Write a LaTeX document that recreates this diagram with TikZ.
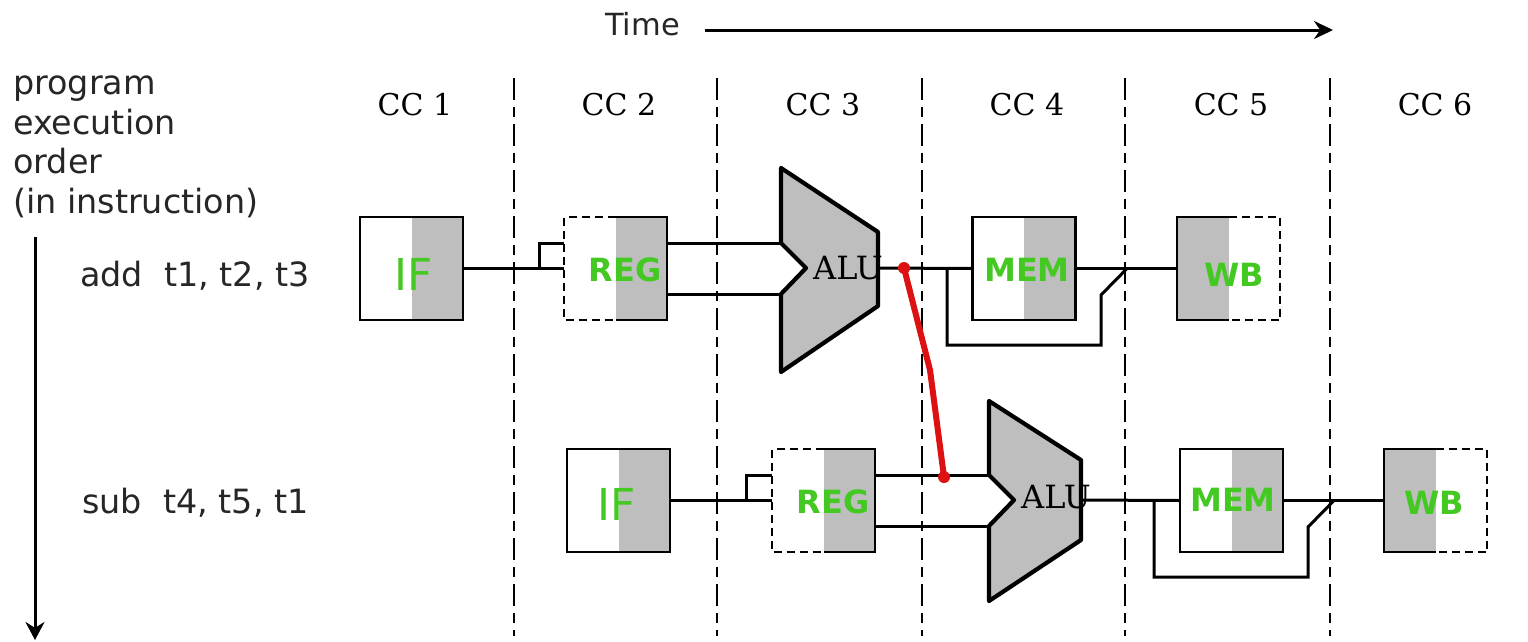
\documentclass[tikz,border=0pt]{standalone}
\usepackage{fontspec}
\setmainfont{DejaVu Sans}
\newfontfamily\ccfont{DejaVu Serif}
\usetikzlibrary{arrows.meta}
\definecolor{stagegray}{HTML}{BEBEBE}
\definecolor{stagegreen}{HTML}{44C922}
\definecolor{fwdred}{HTML}{DD1111}
\tikzset{
  stagebox/.style={minimum width=103pt,minimum height=103pt,inner sep=0pt,outer sep=0pt},
  grayright/.style={stagebox,path picture={\fill[stagegray] (path picture bounding box.north) rectangle (path picture bounding box.south east);}},
  grayleft/.style={stagebox,path picture={\fill[stagegray] (path picture bounding box.north west) rectangle (path picture bounding box.south);}},
  outline/.style={line width=2.8pt,black,line join=miter},
  halfdash/.style={line width=2.8pt,black,dash pattern=on 8pt off 5pt},
  wire/.style={line width=3pt,black,line join=miter},
  cycleline/.style={line width=2.5pt,black,dash pattern=on 22pt off 7pt on 10pt off 7pt},
  alubody/.style={draw=black,fill=stagegray,line width=4.2pt,line join=round},
  stagetxt/.style={text=stagegreen,inner sep=0pt,font=\fontsize{32}{38}\selectfont\bfseries},
  iftxt/.style={text=stagegreen,inner sep=0pt,font=\fontsize{44}{50}\selectfont},
  alutxt/.style={inner sep=0pt,font=\ccfont\fontsize{32}{38}\selectfont},
  cctxt/.style={inner sep=0pt,font=\ccfont\fontsize{30}{36}\selectfont},
  plain/.style={inner sep=0pt,anchor=base west,font=\fontsize{33.4}{40}\selectfont,text=black!85},
  instr/.style={inner sep=0pt,anchor=base west,font=\fontsize{33.4}{40}\selectfont,text=black!85},
}
\begin{document}
\begin{tikzpicture}[x=1pt,y=-1pt]
\useasboundingbox (0,0) rectangle (1528,641);
% cycle separators
\foreach \n/\x in {a/514,b/717,c/922,d/1125,e/1330}{
  \coordinate (top\n) at (\x,78);
  \coordinate (bot\n) at (\x,636);
  \draw[cycleline] (top\n) -- (bot\n);
}
% headers
\node[plain,font=\fontsize{30.5}{36}\selectfont] (time) at (605,35) {Time};
\coordinate (timeS) at (705,30);
\coordinate (timeE) at (1333,30);
\draw[line width=3pt,-{Stealth[length=19pt,width=18pt]}] (timeS) -- (timeE);
\node[plain] (l1) at (13,94) {program};
\node[plain] (l2) at (13,134) {execution};
\node[plain] (l3) at (13,173) {order};
\node[plain] (l4) at (13,213) {(in instruction)};
\coordinate (ordS) at (35,237);
\coordinate (ordE) at (35,640);
\draw[line width=3pt,-{Stealth[length=18pt,width=19pt]}] (ordS) -- (ordE);
\node[instr] (i1) at (80,286) {add\ \ t1, t2, t3};
\node[instr] (i2) at (82,513) {sub\ \ t4, t5, t1};
\foreach \n/\x in {1/415,2/619,3/823,4/1027,5/1231,6/1435}
  \node[cctxt] (cc\n) at (\x,105) {CC \n};

% first row boxes
\node[grayright] (if1) at (411.5,268.5) {};
\node[grayright] (reg1) at (615.5,268.5) {};
\node[grayright] (mem1) at (1024,268.5) {};
\node[grayleft] (wb1) at (1228.5,268.5) {};
\draw[outline] (if1.north west) rectangle (if1.south east);
\draw[outline] (mem1.north west) rectangle (mem1.south east);
\draw[outline] (reg1.north) -- (reg1.north east) -- (reg1.south east) -- (reg1.south);
\draw[halfdash] (reg1.north) -- (reg1.north west) -- (reg1.south west) -- (reg1.south);
\draw[outline] (wb1.north) -- (wb1.north west) -- (wb1.south west) -- (wb1.south);
\draw[halfdash] (wb1.north) -- (wb1.north east) -- (wb1.south east) -- (wb1.south);
\node[iftxt] (tif1) at (414,274) {IF};
\node[stagetxt] (treg1) at (625,270) {REG};
\node[stagetxt] (tmem1) at (1027,270) {MEM};
\node[stagetxt] (twb1) at (1234,275) {WB};

% second row boxes
\node[grayright] (if2) at (618.5,500.5) {};
\node[grayright] (reg2) at (823.5,500.5) {};
\node[grayright] (mem2) at (1231.5,500.5) {};
\node[grayleft] (wb2) at (1435.5,500.5) {};
\draw[outline] (if2.north west) rectangle (if2.south east);
\draw[outline] (mem2.north west) rectangle (mem2.south east);
\draw[outline] (reg2.north) -- (reg2.north east) -- (reg2.south east) -- (reg2.south);
\draw[halfdash] (reg2.north) -- (reg2.north west) -- (reg2.south west) -- (reg2.south);
\draw[outline] (wb2.north) -- (wb2.north west) -- (wb2.south west) -- (wb2.south);
\draw[halfdash] (wb2.north) -- (wb2.north east) -- (wb2.south east) -- (wb2.south);
\node[iftxt] (tif2) at (617,504) {IF};
\node[stagetxt] (treg2) at (833,502) {REG};
\node[stagetxt] (tmem2) at (1233,500) {MEM};
\node[stagetxt] (twb2) at (1434,503) {WB};

% ALUs
\coordinate (a1o) at (878,268);
\coordinate (a1t) at (781,243);
\coordinate (a1b) at (781,294);
\draw[alubody] (781,168) -- (878,232) -- (878,306) -- (781,372) -- (a1b) -- (806,268) -- (a1t) -- cycle;
\node[alutxt] (alu1) at (848,268) {ALU};
\coordinate (a2o) at (1081,500);
\coordinate (a2t) at (989,475);
\coordinate (a2b) at (989,526);
\draw[alubody] (989,401) -- (1081,460) -- (1081,540) -- (989,601) -- (a2b) -- (1014,500) -- (a2t) -- cycle;
\node[alutxt] (alu2) at (1056,497) {ALU};

% row 1 wires
\coordinate (s1a) at (539,268.5);
\coordinate (s1b) at (539,243);
\coordinate (r1t) at (reg1.west |- s1b);
\coordinate (r1ot) at (reg1.east |- s1b);
\coordinate (r1ob) at (reg1.east |- a1b);
\draw[wire] (if1.east) -- (reg1.west);
\draw[wire] (s1a) -- (s1b) -- (r1t);
\draw[wire] (r1ot) -- (a1t);
\draw[wire] (r1ob) -- (a1b);
\draw[wire] (a1o) -- (mem1.west);
\draw[wire] (mem1.east) -- (wb1.west);
\coordinate (b1a) at (947,268.5);
\coordinate (b1b) at (947,345);
\coordinate (b1c) at (1101,345);
\coordinate (b1d) at (1101,295);
\coordinate (b1e) at (1127,268.5);
\draw[wire] (b1a) -- (b1b) -- (b1c) -- (b1d) -- (b1e);

% row 2 wires
\coordinate (s2a) at (746,500.5);
\coordinate (s2b) at (746,475);
\coordinate (r2t) at (reg2.west |- s2b);
\coordinate (r2ot) at (reg2.east |- s2b);
\coordinate (r2ob) at (reg2.east |- a2b);
\draw[wire] (if2.east) -- (reg2.west);
\draw[wire] (s2a) -- (s2b) -- (r2t);
\draw[wire] (r2ot) -- (a2t);
\draw[wire] (r2ob) -- (a2b);
\draw[wire] (a2o) -- (mem2.west);
\draw[wire] (mem2.east) -- (wb2.west);
\coordinate (b2a) at (1154,500.5);
\coordinate (b2b) at (1154,577);
\coordinate (b2c) at (1308,577);
\coordinate (b2d) at (1308,527);
\coordinate (b2e) at (1334,500.5);
\draw[wire] (b2a) -- (b2b) -- (b2c) -- (b2d) -- (b2e);

% forwarding
\coordinate (fS) at (904,268);
\coordinate (fM) at (930,370);
\coordinate (fE) at (944,477);
\draw[fwdred,line width=6pt,line join=round] (fS) -- (fM) -- (fE);
\fill[fwdred] (fS) circle (6pt);
\fill[fwdred] (fE) circle (6pt);
\end{tikzpicture}
\end{document}
